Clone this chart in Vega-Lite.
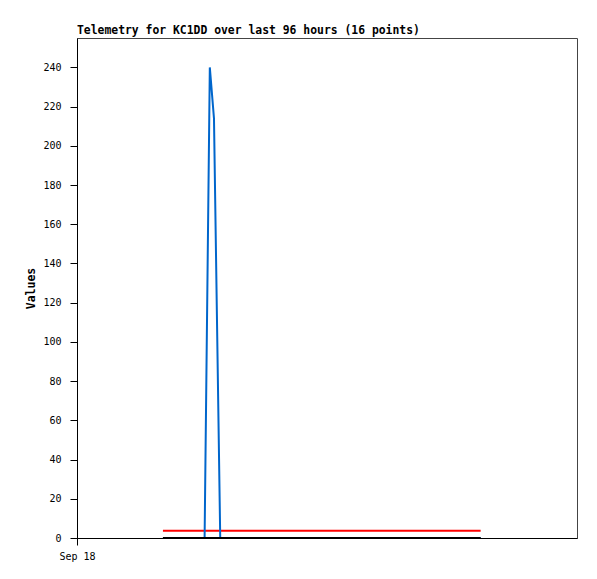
{
  "$schema": "https://vega.github.io/schema/vega-lite/v6.json",
  "autosize": "none",
  "width": 500,
  "height": 500,
  "padding": {"left": 77, "top": 38, "right": 20, "bottom": 41},
  "background": "white",
  "config": {
    "view": {"stroke": "#444", "strokeWidth": 1},
    "font": "DejaVu Sans Mono"
  },
  "title": {
    "text": "Telemetry for KC1DD over last 96 hours (16 points)",
    "anchor": "start",
    "frame": "group",
    "offset": 2,
    "font": "DejaVu Sans Mono",
    "fontSize": 11.4,
    "fontWeight": "bold",
    "color": "#000"
  },
  "data": {
    "values": [
      {"t": "2024-09-18T16:30:00Z", "ch": "A", "value": 3.7},
      {"t": "2024-09-18T19:30:00Z", "ch": "A", "value": 3.7},
      {"t": "2024-09-18T22:30:00Z", "ch": "A", "value": 3.7},
      {"t": "2024-09-19T00:30:00Z", "ch": "A", "value": 3.7},
      {"t": "2024-09-19T01:30:00Z", "ch": "A", "value": 3.7},
      {"t": "2024-09-19T02:18:00Z", "ch": "A", "value": 3.7},
      {"t": "2024-09-19T03:30:00Z", "ch": "A", "value": 3.7},
      {"t": "2024-09-19T08:00:00Z", "ch": "A", "value": 3.7},
      {"t": "2024-09-19T13:00:00Z", "ch": "A", "value": 3.7},
      {"t": "2024-09-19T18:00:00Z", "ch": "A", "value": 3.7},
      {"t": "2024-09-19T23:00:00Z", "ch": "A", "value": 3.7},
      {"t": "2024-09-20T04:00:00Z", "ch": "A", "value": 3.7},
      {"t": "2024-09-20T09:00:00Z", "ch": "A", "value": 3.7},
      {"t": "2024-09-20T14:00:00Z", "ch": "A", "value": 3.7},
      {"t": "2024-09-20T19:00:00Z", "ch": "A", "value": 3.7},
      {"t": "2024-09-21T05:30:00Z", "ch": "A", "value": 3.7},
      {"t": "2024-09-18T16:30:00Z", "ch": "B", "value": 0},
      {"t": "2024-09-18T19:30:00Z", "ch": "B", "value": 0},
      {"t": "2024-09-18T22:30:00Z", "ch": "B", "value": 0},
      {"t": "2024-09-19T00:30:00Z", "ch": "B", "value": 0},
      {"t": "2024-09-19T01:30:00Z", "ch": "B", "value": 240},
      {"t": "2024-09-19T02:18:00Z", "ch": "B", "value": 214},
      {"t": "2024-09-19T03:30:00Z", "ch": "B", "value": 0},
      {"t": "2024-09-19T08:00:00Z", "ch": "B", "value": 0},
      {"t": "2024-09-19T13:00:00Z", "ch": "B", "value": 0},
      {"t": "2024-09-19T18:00:00Z", "ch": "B", "value": 0},
      {"t": "2024-09-19T23:00:00Z", "ch": "B", "value": 0},
      {"t": "2024-09-20T04:00:00Z", "ch": "B", "value": 0},
      {"t": "2024-09-20T09:00:00Z", "ch": "B", "value": 0},
      {"t": "2024-09-20T14:00:00Z", "ch": "B", "value": 0},
      {"t": "2024-09-20T19:00:00Z", "ch": "B", "value": 0},
      {"t": "2024-09-21T05:30:00Z", "ch": "B", "value": 0},
      {"t": "2024-09-18T16:30:00Z", "ch": "C", "value": 0},
      {"t": "2024-09-18T19:30:00Z", "ch": "C", "value": 0},
      {"t": "2024-09-18T22:30:00Z", "ch": "C", "value": 0},
      {"t": "2024-09-19T00:30:00Z", "ch": "C", "value": 0},
      {"t": "2024-09-19T01:30:00Z", "ch": "C", "value": 0},
      {"t": "2024-09-19T02:18:00Z", "ch": "C", "value": 0},
      {"t": "2024-09-19T03:30:00Z", "ch": "C", "value": 0},
      {"t": "2024-09-19T08:00:00Z", "ch": "C", "value": 0},
      {"t": "2024-09-19T13:00:00Z", "ch": "C", "value": 0},
      {"t": "2024-09-19T18:00:00Z", "ch": "C", "value": 0},
      {"t": "2024-09-19T23:00:00Z", "ch": "C", "value": 0},
      {"t": "2024-09-20T04:00:00Z", "ch": "C", "value": 0},
      {"t": "2024-09-20T09:00:00Z", "ch": "C", "value": 0},
      {"t": "2024-09-20T14:00:00Z", "ch": "C", "value": 0},
      {"t": "2024-09-20T19:00:00Z", "ch": "C", "value": 0},
      {"t": "2024-09-21T05:30:00Z", "ch": "C", "value": 0}
    ]
  },
  "mark": {"type": "line", "strokeWidth": 2, "clip": true},
  "encoding": {
    "x": {
      "field": "t",
      "type": "temporal",
      "scale": {"type": "utc", "domain": ["2024-09-18T00:00:00Z", "2024-09-22T00:00:00Z"], "nice": false},
      "axis": {
        "title": null,
        "values": ["2024-09-18T00:00:00Z"],
        "labelExpr": "'Sep 18'",
        "grid": false,
        "domainColor": "#000",
        "tickColor": "#000",
        "tickSize": 7,
        "labelPadding": 6,
        "labelFont": "DejaVu Sans Mono",
        "labelFontSize": 10,
        "labelColor": "#000",
        "labelAlign": "center",
        "labelFlush": false
      }
    },
    "y": {
      "field": "value",
      "type": "quantitative",
      "scale": {"domain": [0, 255], "nice": false, "zero": true},
      "axis": {
        "title": "Values",
        "titleFont": "DejaVu Sans Mono",
        "titleFontSize": 11.5,
        "titleFontWeight": "bold",
        "titleColor": "#000",
        "titlePadding": 6,
        "values": [0, 20, 40, 60, 80, 100, 120, 140, 160, 180, 200, 220, 240],
        "grid": false,
        "domainColor": "#000",
        "tickColor": "#000",
        "tickSize": 7,
        "labelPadding": 9,
        "labelFont": "DejaVu Sans Mono",
        "labelFontSize": 10,
        "labelColor": "#000"
      }
    },
    "color": {
      "field": "ch",
      "type": "nominal",
      "scale": {"domain": ["A", "B", "C"], "range": ["#ff0000", "#0066cc", "#000000"]},
      "legend": null
    },
    "order": {"field": "t", "type": "temporal"}
  }
}
